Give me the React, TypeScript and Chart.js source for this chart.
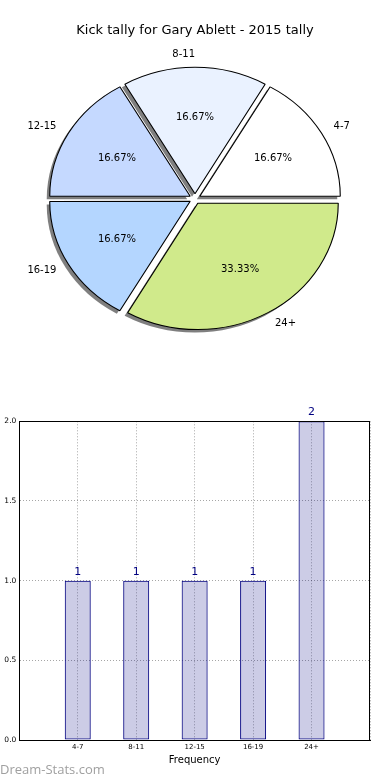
import React, { useEffect, useRef } from 'react';
import { Chart, registerables } from 'chart.js';

Chart.register(...registerables);

// ---- data ----
const chartTitle = 'Kick tally for Gary Ablett - 2015 tally';
const categories = ['4-7', '8-11', '12-15', '16-19', '24+'];
const counts = [1, 1, 1, 1, 2];
const sliceColors = ['#ffffff', '#eaf2ff', '#c5d9ff', '#b4d6ff', '#d0ea8b'];
const yTicks = [0, 0.5, 1.0, 1.5, 2.0];
const xAxisTitle = 'Frequency';
const watermark = 'Dream-Stats.com';

const FONT = "'DejaVu Sans', sans-serif";
const SX = 140.5 / 126.5; // matplotlib pie on non-equal axes -> ellipse

// matplotlib draws counter-clockwise from 3 o'clock; Chart.js draws clockwise
const pieLabels = [...categories].reverse();
const pieValues = [...counts].reverse();
const pieColors = [...sliceColors].reverse();

const barLabels = ['', ...categories, ''];
const barValues: (number | null)[] = [null, ...counts, null];

const ellipsePlugin = {
  id: 'ellipsePie',
  beforeDatasetsDraw(chart: any) {
    const ctx = chart.ctx;
    const a = chart.chartArea;
    const cx = (a.left + a.right) / 2;
    ctx.save();
    ctx.translate(cx, 0);
    ctx.scale(SX, 1);
    ctx.translate(-cx, 0);
    // shadow pass (fills only, beneath every wedge)
    const meta = chart.getDatasetMeta(0);
    ctx.save();
    ctx.shadowColor = 'rgba(0,0,0,0.5)';
    ctx.shadowOffsetX = -3;
    ctx.shadowOffsetY = 3;
    ctx.shadowBlur = 0;
    meta.data.forEach((el: any) => {
      const o = el.options;
      el.options = { ...o, borderWidth: 0 };
      el.draw(ctx);
      el.options = o;
    });
    ctx.restore();
  },
  afterDatasetsDraw(chart: any) {
    const ctx = chart.ctx;
    ctx.restore();
    const a = chart.chartArea;
    const cx = (a.left + a.right) / 2;
    const meta = chart.getDatasetMeta(0);
    const vals = chart.data.datasets[0].data as number[];
    const total = vals.reduce((s, v) => s + v, 0);
    ctx.save();
    ctx.fillStyle = '#000';
    ctx.font = `10px ${FONT}`;
    ctx.textBaseline = 'middle';
    meta.data.forEach((el: any, i: number) => {
      const p = el.getProps(['x', 'y', 'startAngle', 'endAngle', 'outerRadius', 'circumference'], true);
      const off = (el.options.offset || 0) / 4;
      const fix = 1 - Math.sin(Math.min(Math.PI, p.circumference || 0));
      const shift = off * (1 + fix);
      const mid = (p.startAngle + p.endAngle) / 2;
      const c = Math.cos(mid);
      const s = Math.sin(mid);
      const at = (f: number) => ({
        px: cx + SX * c * (shift + f * p.outerRadius),
        py: p.y + s * (shift + f * p.outerRadius),
      });
      const lab = at(1.1);
      ctx.textAlign = c > 1e-6 ? 'left' : 'right';
      ctx.fillText(chart.data.labels[i], lab.px, lab.py);
      const pct = at(0.6);
      ctx.textAlign = 'center';
      ctx.fillText(((vals[i] / total) * 100).toFixed(2) + '%', pct.px, pct.py);
    });
    ctx.restore();
  },
};

const framePlugin = {
  id: 'frame',
  afterDatasetsDraw(chart: any) {
    const ctx = chart.ctx;
    const a = chart.chartArea;
    ctx.save();
    ctx.strokeStyle = '#000';
    ctx.lineWidth = 1;
    ctx.strokeRect(Math.round(a.left) + 0.5, Math.round(a.top) + 0.5, Math.round(a.right - a.left) - 1, Math.round(a.bottom - a.top));
    // bar value labels
    const meta = chart.getDatasetMeta(0);
    const vals = chart.data.datasets[0].data as (number | null)[];
    ctx.fillStyle = '#000080';
    ctx.font = `11px ${FONT}`;
    ctx.textAlign = 'center';
    ctx.textBaseline = 'middle';
    meta.data.forEach((el: any, i: number) => {
      const v = vals[i];
      if (v === null || v === undefined) return;
      ctx.fillText(String(v), el.x, el.y - 9);
    });
    ctx.restore();
  },
};

function PieChart() {
  const ref = useRef<HTMLCanvasElement>(null);
  useEffect(() => {
    const chart = new Chart(ref.current!, {
      type: 'pie',
      data: {
        labels: pieLabels,
        datasets: [
          {
            data: pieValues,
            backgroundColor: pieColors,
            borderColor: '#000',
            borderWidth: 1,
            offset: 20,
          } as any,
        ],
      },
      options: {
        responsive: false,
        animation: false,
        events: [],
        rotation: 90,
        radius: 125.8,
        layout: { padding: 0 },
        plugins: {
          legend: { display: false },
          tooltip: { enabled: false },
          title: {
            display: true,
            text: chartTitle,
            color: '#000',
            font: { family: FONT, size: 13, weight: 'normal' },
            padding: { top: 23, bottom: 0 },
          },
        },
      } as any,
      plugins: [ellipsePlugin],
    });
    return () => chart.destroy();
  }, []);
  return <canvas ref={ref} width={390} height={359} style={{ position: 'absolute', left: 0, top: 0, display: 'block' }} />;
}

function BarChart() {
  const ref = useRef<HTMLCanvasElement>(null);
  useEffect(() => {
    const gridCommon = { color: 'rgba(0,0,0,0.35)', lineWidth: 1, drawTicks: false, offset: false };
    const borderCommon = { display: true, color: '#000', width: 1, dash: [1, 2] };
    const chart = new Chart(ref.current!, {
      type: 'bar',
      data: {
        labels: barLabels,
        datasets: [
          {
            data: barValues,
            backgroundColor: 'rgba(0,0,128,0.2)',
            borderColor: '#000080',
            borderWidth: 1,
            borderSkipped: false,
            barPercentage: 0.445,
            categoryPercentage: 1,
          } as any,
        ],
      },
      options: {
        responsive: false,
        animation: false,
        events: [],
        layout: { padding: { left: 0, right: 20, top: 41.3, bottom: 0 } },
        plugins: { legend: { display: false }, tooltip: { enabled: false }, title: { display: false } },
        scales: {
          x: {
            type: 'category',
            offset: false,
            grid: gridCommon,
            border: borderCommon,
            ticks: { font: { family: FONT, size: 7 }, color: '#000', padding: 3, autoSkip: false, maxRotation: 0 },
            title: { display: true, text: xAxisTitle, color: '#000', font: { family: FONT, size: 10 }, padding: 14 },
            afterFit: (s: any) => {
              s.height = 40;
            },
          },
          y: {
            min: 0,
            max: 2,
            grid: gridCommon,
            border: borderCommon,
            ticks: {
              font: { family: FONT, size: 7.5 },
              color: '#000',
              padding: 3,
              callback: (v: any) => Number(v).toFixed(1),
            },
            afterBuildTicks: (s: any) => {
              s.ticks = yTicks.map((v) => ({ value: v }));
            },
            afterFit: (s: any) => {
              s.width = 19.3;
            },
          },
        },
      } as any,
      plugins: [framePlugin],
    });
    return () => chart.destroy();
  }, []);
  return <canvas ref={ref} width={390} height={400} style={{ position: 'absolute', left: 0, top: 380, display: 'block' }} />;
}

export default function App() {
  return (
    <div style={{ position: 'absolute', left: 0, top: 0, width: 390, height: 780, background: '#fff', overflow: 'hidden' }}>
      <PieChart />
      <BarChart />
      <div
        style={{
          position: 'absolute',
          left: 0,
          top: 760,
          fontFamily: "'Open Sans', sans-serif",
          fontSize: 13,
          lineHeight: '18px',
          color: '#a0a0a0',
          whiteSpace: 'nowrap',
        }}
      >
        {watermark}
      </div>
    </div>
  );
}
